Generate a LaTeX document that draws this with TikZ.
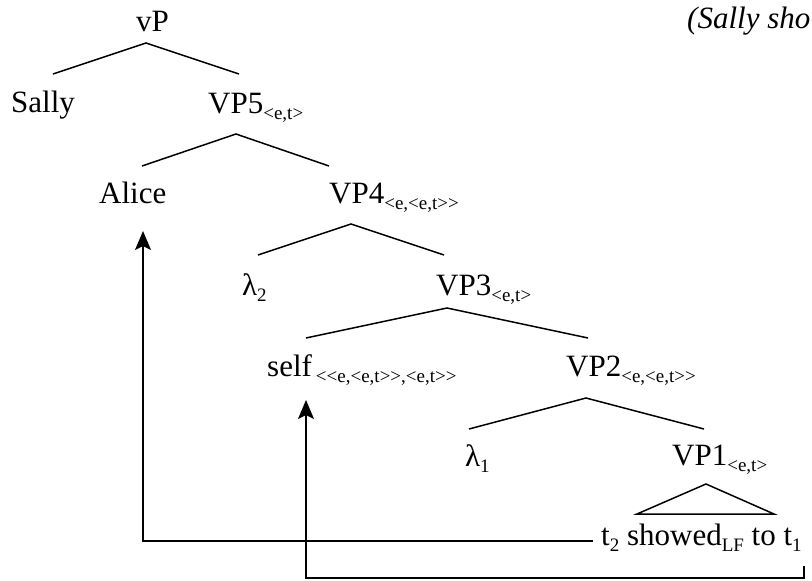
\documentclass[tikz,border=0pt]{standalone}
\usepackage{fontspec}
\setmainfont{Liberation Serif}
\usetikzlibrary{arrows.meta,calc}
\newcommand{\lsub}[1]{\raisebox{-6pt}{\fontsize{19}{20}\selectfont #1}}

\begin{document}
\begin{tikzpicture}[
  x=1pt, y=-1pt,
  font=\fontsize{31}{37}\selectfont,
  lbl/.style={anchor=base west, inner sep=0pt},
  branch/.style={line width=1.5pt, line join=miter},
  mvarrow/.style={-{Stealth[length=19pt,width=16pt,inset=4pt]}, line width=1.5pt}
]
\useasboundingbox (0,0) rectangle (812,581);

\node[lbl] (title) at (687,28) {\textit{(Sally sho}};

\node[lbl] (vp) at (136,31) {vP};
\node[lbl] (sally) at (11,112) {Sally};
\node[lbl] (vpv) at (208,113) {VP5\lsub{<e,t>}};
\node[lbl] (alice) at (99,203) {Alice};
\node[lbl] (vpiv) at (329,203) {VP4\lsub{<e,<e,t>{}>}};
\node[lbl] (lamii) at (242,295) {λ\lsub{2}};
\node[lbl] (vpiii) at (436,295) {VP3\lsub{<e,t>}};
\node[lbl] (self) at (267,376) {self\hspace{4pt}\lsub{<{}<e,<e,t>{}>,<e,t>{}>}};
\node[lbl] (vpii) at (566,376) {VP2\lsub{<e,<e,t>{}>}};
\node[lbl] (lami) at (465,466) {λ\lsub{1}};
\node[lbl] (vpi) at (672,465) {VP1\lsub{<e,t>}};
\node[lbl] (lf) at (601,545) {t\lsub{2} showed\lsub{LF} to t\lsub{1}};

\foreach \p/\a/\b/\pdx/\pdy/\adx/\ady/\bdx/\bdy in {
    vp/sally/vpv/10/12/42/-38/31/-39,
    vpv/alice/vpiv/28/21/43/-37/0/-37,
    vpiv/lamii/vpiii/22/21/16/-40/8/-40,
    vpiii/self/vpii/11/13/39/-38/22/-38,
    vpii/lami/vpi/20/22/4/-37/32/-36}
  \draw[branch] ($(\a.base west)+(\adx,\ady)$) -- ($(\p.base west)+(\pdx,\pdy)$)
    -- ($(\b.base west)+(\bdx,\bdy)$);

\draw[branch] ($(vpi.base west)+(34,19)$) -- ($(lf.base west)+(36,-31)$)
  -- ($(lf.base west)+(173,-31)$) -- cycle;

\coordinate (foot) at ($(self.base west)+(39,202)$);
\draw[mvarrow] ($(lf.base west)+(-8,-4)$) -| ($(alice.base west)+(44,28)$);
\draw[mvarrow] ($(lf.base west)+(203,21)$) |- (foot) -- ($(self.base west)+(39,24)$);

\end{tikzpicture}
\end{document}
